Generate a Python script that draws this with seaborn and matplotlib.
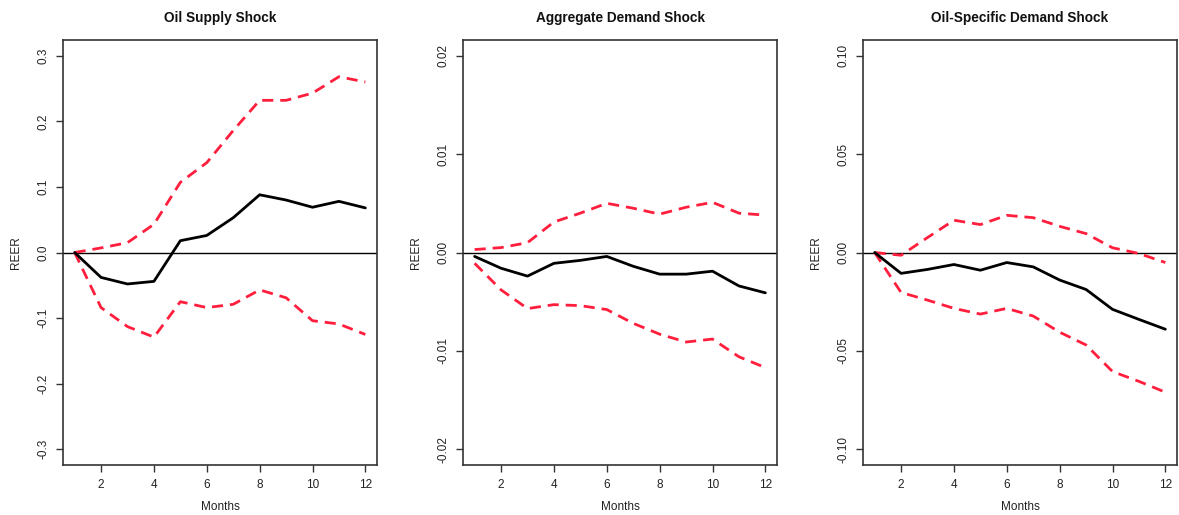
import numpy as np
import pandas as pd
import matplotlib
matplotlib.use("Agg")
import matplotlib.pyplot as plt
import seaborn as sns

months = list(range(1, 13))

# Oil supply shock: impulse response and error bands
supply_irf = [0.0, -0.038, -0.048, -0.044, 0.018, 0.026, 0.053, 0.088, 0.080, 0.069, 0.078, 0.068]
supply_upper = [0.0, 0.007, 0.015, 0.043, 0.107, 0.137, 0.186, 0.232, 0.232, 0.243, 0.268, 0.260]
supply_lower = [0.0, -0.084, -0.113, -0.129, -0.075, -0.084, -0.079, -0.057, -0.069, -0.104, -0.109, -0.125]

# Aggregate demand shock
demand_irf = [-0.0004, -0.0016, -0.0024, -0.0011, -0.0008, -0.0004, -0.0014, -0.0022, -0.0022, -0.0019, -0.0034, -0.0041]
demand_upper = [0.0003, 0.0005, 0.0010, 0.0031, 0.0040, 0.0050, 0.0045, 0.0039, 0.0046, 0.0051, 0.0040, 0.0038]
demand_lower = [-0.0011, -0.0038, -0.0057, -0.0053, -0.0054, -0.0058, -0.0072, -0.0083, -0.0091, -0.0088, -0.0106, -0.0117]

# Oil-specific demand shock
specific_irf = [0.0, -0.0106, -0.0086, -0.0061, -0.0090, -0.0051, -0.0073, -0.0140, -0.0188, -0.0289, -0.0340, -0.0390]
specific_upper = [0.0, -0.0014, 0.0076, 0.0164, 0.0142, 0.0189, 0.0177, 0.0133, 0.0096, 0.0024, -0.0005, -0.0051]
specific_lower = [0.0, -0.0203, -0.0242, -0.0284, -0.0313, -0.0284, -0.0323, -0.0405, -0.0470, -0.0605, -0.0655, -0.0710]

titles = ["Oil Supply Shock", "Aggregate Demand Shock", "Oil-Specific Demand Shock"]
y_limits = [0.3, 0.02, 0.10]
y_ticks = [
    [-0.3, -0.2, -0.1, 0.0, 0.1, 0.2, 0.3],
    [-0.02, -0.01, 0.00, 0.01, 0.02],
    [-0.10, -0.05, 0.00, 0.05, 0.10],
]
y_ticklabels = [
    ["-0.3", "-0.2", "-0.1", "0.0", "0.1", "0.2", "0.3"],
    ["-0.02", "-0.01", "0.00", "0.01", "0.02"],
    ["-0.10", "-0.05", "0.00", "0.05", "0.10"],
]
x_ticks = [2, 4, 6, 8, 10, 12]

panels = [
    (supply_irf, supply_upper, supply_lower),
    (demand_irf, demand_upper, demand_lower),
    (specific_irf, specific_upper, specific_lower),
]

sns.set_theme(style="white")
plt.rcParams["font.family"] = ["Liberation Sans", "DejaVu Sans"]

W, H = 1179, 515
fig = plt.figure(figsize=(W / 100, H / 100), dpi=100)

lefts = [63, 463, 863]
ax_w, ax_top, ax_bot = 314, 40, 465
red = "#ff1f3d"
frame = "#333333"
text_col = "#222222"

for i, (irf, up, lo) in enumerate(panels):
    ax = fig.add_axes([lefts[i] / W, 1 - ax_bot / H, ax_w / W, (ax_bot - ax_top) / H])
    df = pd.DataFrame({"Months": months, "irf": irf, "upper": up, "lower": lo})
    ax.axhline(0, color="black", lw=1.0, zorder=1)
    sns.lineplot(data=df, x="Months", y="upper", ax=ax, color=red, lw=2.0,
                 zorder=2).lines[-1].set_dashes((4, 2.5))
    sns.lineplot(data=df, x="Months", y="lower", ax=ax, color=red, lw=2.0,
                 zorder=2).lines[-1].set_dashes((4, 2.5))
    sns.lineplot(data=df, x="Months", y="irf", ax=ax, color="black", lw=2.0, zorder=3)

    lim = y_limits[i]
    ax.set_ylim(-lim * 1.08, lim * 1.08)
    ax.set_xlim(1 - 0.44, 12 + 0.44)
    ax.set_yticks(y_ticks[i])
    ax.set_yticklabels(y_ticklabels[i], rotation=90, va="center")
    ax.set_xticks(x_ticks)
    ax.set_xticklabels([str(t) for t in x_ticks])
    ax.tick_params(axis="both", direction="out", length=5, width=1.0, colors=frame,
                   labelsize=8.5, labelcolor=text_col, pad=5, left=True, bottom=True)
    for sp in ax.spines.values():
        sp.set_visible(True)
        sp.set_color(frame)
        sp.set_linewidth(1.2)
    ax.set_xlabel("Months", fontsize=8.5, color=text_col, labelpad=7)
    ax.set_ylabel("REER", fontsize=8.5, color=text_col, labelpad=11)
    ax.set_title(titles[i], fontsize=9.8, fontweight="bold", color="#111111", pad=13)
    ax.grid(False)

fig.savefig("out.png", dpi=100, facecolor="white")
